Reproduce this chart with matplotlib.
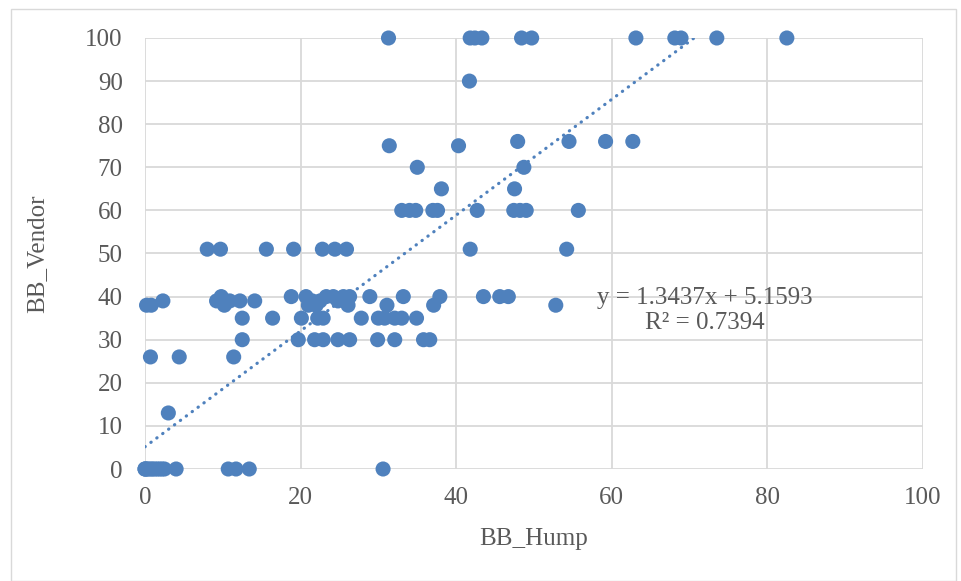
import matplotlib
matplotlib.use("Agg")
import matplotlib.pyplot as plt
import numpy as np
from matplotlib.patches import Rectangle

plt.rcParams['font.family'] = ['Liberation Serif', 'DejaVu Serif']

# ---- data (grouped by BB_Vendor level) ----
x_100 = [31.3, 41.8, 42.4, 43.3, 48.4, 49.7, 63.1, 68.1, 68.9, 73.5, 82.5]
x_90 = [41.7]
x_76 = [47.9, 54.5, 59.2, 62.7]
x_75 = [31.4, 40.3]
x_70 = [35.0, 48.7]
x_65 = [38.1, 47.5]
x_60 = [33.0, 34.0, 34.8, 37.0, 37.6, 42.7, 47.4, 48.2, 49.0, 55.7]
x_51 = [8.0, 9.7, 15.6, 19.1, 22.8, 24.4, 25.9, 41.8, 54.2]
x_40 = [9.8, 18.8, 20.7, 23.3, 24.2, 25.5, 26.3, 28.9, 33.2, 37.9, 43.5, 45.6, 46.7]
x_39 = [2.3, 9.2, 10.9, 12.2, 14.1, 21.5, 22.5, 24.8]
x_38 = [0.2, 0.8, 10.2, 21.0, 22.0, 26.1, 31.1, 37.1, 52.8]
x_35 = [12.5, 16.4, 20.1, 22.2, 22.9, 27.8, 30.0, 30.8, 32.1, 33.0, 34.9]
x_30 = [12.5, 19.7, 21.8, 22.9, 24.8, 26.3, 29.9, 32.1, 35.8, 36.6]
x_26 = [0.7, 4.4, 11.4]
x_13 = [3.0]
x_0 = [0.0, 0.0, 0.1, 0.3, 0.5, 0.8, 1.0, 1.3, 1.6, 1.9, 2.2, 2.5, 4.0, 10.7, 11.7, 13.4, 30.6]

groups = {100: x_100, 90: x_90, 76: x_76, 75: x_75, 70: x_70, 65: x_65,
          60: x_60, 51: x_51, 40: x_40, 39: x_39, 38: x_38, 35: x_35,
          30: x_30, 26: x_26, 13: x_13, 0: x_0}

bb_hump = np.array([v for k, xs in groups.items() for v in xs])
bb_vendor = np.array([k for k, xs in groups.items() for v in xs], dtype=float)

# trendline from the chart's label
slope = 1.3437
intercept = 5.1593
eq_label = "y = 1.3437x + 5.1593"
r2_label = "R² = 0.7394"

ticks = [0, 20, 40, 60, 80, 100]
yticks = [0, 10, 20, 30, 40, 50, 60, 70, 80, 90, 100]
xlabel = "BB_Hump"
ylabel = "BB_Vendor"

blue = "#4F81BD"
gray_text = "#595959"
grid_c = "#D9D9D9"

fig = plt.figure(figsize=(9.62, 5.81), dpi=100)
ax = fig.add_axes([145/962, 1-469/581, (923-145)/962, (469-38)/581])

ax.set_xlim(0, 100)
ax.set_ylim(0, 100)
ax.set_xticks(ticks)
ax.set_yticks(yticks)
ax.grid(True, color=grid_c, linewidth=1.3, zorder=0)
ax.set_axisbelow(True)
for s in ax.spines.values():
    s.set_visible(False)
ax.tick_params(length=0, labelsize=18, labelcolor=gray_text)
ax.tick_params(axis='x', pad=13)
ax.tick_params(axis='y', pad=16)

ax.scatter(bb_hump, bb_vendor, s=118, color=blue, edgecolors='none',
           zorder=3, clip_on=False)

x_end = (100 - intercept) / slope
xl = np.array([0, x_end])
ax.plot(xl, slope*xl + intercept, color=blue, linewidth=2.3,
        linestyle=(0, (0.1, 2.2)), dash_capstyle='round', zorder=4)

ax.text(72.0, 39.7, eq_label, ha='center', va='center', fontsize=18, color=gray_text)
ax.text(72.0, 33.9, r2_label, ha='center', va='center', fontsize=18, color=gray_text)

ax.set_xlabel(xlabel, fontsize=18, color=gray_text, labelpad=14)
ax.set_ylabel(ylabel, fontsize=18, color=gray_text, labelpad=27)

fig.patches.append(Rectangle((11/962, 0), (956-11)/962, 1-9/581,
                             transform=fig.transFigure, fill=False,
                             edgecolor="#D9D9D9", linewidth=1.0))

fig.savefig("out.png", dpi=100)
